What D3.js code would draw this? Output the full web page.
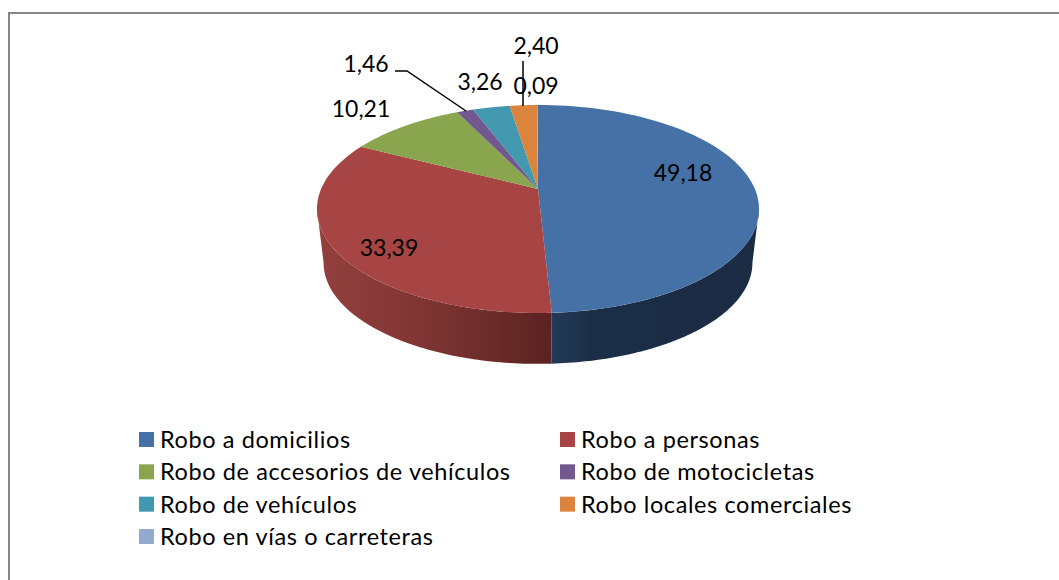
<!DOCTYPE html>
<html>
<head>
<meta charset="utf-8">
<script src="https://cdn.jsdelivr.net/npm/d3@7"></script>
<style>
  html, body { margin: 0; padding: 0; background: #fff; overflow: hidden; }
  text { font-family: Lato, "Open Sans", sans-serif; fill: #000; }
</style>
</head>
<body>
<div id="chart"></div>
<script>
// Data
const categories = [
  "Robo a domicilios", "Robo a personas", "Robo de accesorios de vehículos",
  "Robo de motocicletas", "Robo de vehículos", "Robo locales comerciales",
  "Robo en vías o carreteras"
];
const values = [49.18, 33.39, 10.21, 1.46, 3.26, 2.40, 0.09];
const valueLabels = ["49,18", "33,39", "10,21", "1,46", "3,26", "2,40", "0,09"];
const colors = ["#4571a6", "#a64543", "#89a54e", "#71588f", "#4298af", "#db843d", "#93a9cf"];

const width = 1059, height = 580;
const svg = d3.select("#chart").append("svg")
  .attr("width", width)
  .attr("height", height)
  .style("display", "block");

// frame, only top and left reach inside the picture
svg.append("path")
  .attr("d", "M9,580V13H1059")
  .attr("fill", "none")
  .attr("stroke", "#868686")
  .attr("stroke-width", 2);

const color = d3.scaleOrdinal().domain(categories).range(colors);
const arcs = d3.pie().sort(null).value(d => d)(values);

// perspective of the tilted disc: unit circle to screen
const cx = 538, apexY = 189, a = 216.9, p = 63.8, k = -0.1923;
function topRim(theta) {
  const u = Math.sin(theta), v = -Math.cos(theta), w = 1 + k * v;
  return [cx + a * u / w, (p * v + apexY) / w];
}
function bottomRim(theta) {
  const t = topRim(theta);
  return [cx + (t[0] - cx) * 0.97, 263 + (t[1] - 209) * 0.97];
}
function rim(fn, a0, a1) {
  return d3.range(0, 81).map(i => fn(a0 + (a1 - a0) * i / 80));
}
const line = d3.line();

// side shading
const defs = svg.append("defs");
function sideGradient(id, stops) {
  const g = defs.append("linearGradient").attr("id", id)
    .attr("gradientUnits", "userSpaceOnUse")
    .attr("x1", 317).attr("x2", 759).attr("y1", 0).attr("y2", 0);
  stops.forEach(s => g.append("stop").attr("offset", s[0]).attr("stop-color", s[1]));
}
sideGradient("side0", [[0.53, "#223a56"], [0.62, "#1c2e47"], [1, "#1a2b42"]]);
sideGradient("side1", [[0, "#93403d"], [0.2, "#833735"], [0.4, "#6b2c2a"], [0.53, "#5a2221"]]);

// only the front of the wall shows, between the two widest points of the disc
const widest = Math.acos(k);
svg.append("g").selectAll("path")
  .data(arcs.slice(0, 2))
  .enter().append("path")
  .attr("d", d => {
    const a0 = Math.max(d.startAngle, widest), a1 = Math.min(d.endAngle, 2 * Math.PI - widest);
    return line(rim(topRim, a0, a1).concat(rim(bottomRim, a0, a1).reverse())) + "Z";
  })
  .attr("fill", (d, i) => "url(#side" + i + ")");

// top face
svg.append("g").selectAll("path")
  .data(arcs)
  .enter().append("path")
  .attr("d", d => line([[cx, apexY]].concat(rim(topRim, d.startAngle, d.endAngle))) + "Z")
  .attr("fill", (d, i) => color(categories[i]));

// leader lines
const leaders = [
  [[395, 71], [407, 71], [466, 111]],
  [[523, 61], [523, 106]]
];
svg.append("g").selectAll("path")
  .data(leaders)
  .enter().append("path")
  .attr("d", d => line(d))
  .attr("fill", "none")
  .attr("stroke", "#000")
  .attr("stroke-width", 1.5);

// data labels
const labelPos = [[683, 181], [389, 256], [361, 117], [366, 72], [480, 90], [536, 54], [536, 94]];
svg.append("g").selectAll("text")
  .data(valueLabels)
  .enter().append("text")
  .attr("x", (d, i) => labelPos[i][0])
  .attr("y", (d, i) => labelPos[i][1])
  .attr("text-anchor", "middle")
  .attr("font-size", 23)
  .text(d => d);

// legend
const legendCol = [139, 560];
const legendRow = d3.scalePoint().domain(d3.range(4)).range([440, 537]);
const legend = svg.append("g").selectAll("g")
  .data(categories)
  .enter().append("g")
  .attr("transform", (d, i) => "translate(" + legendCol[i % 2] + "," + legendRow(Math.floor(i / 2)) + ")");
legend.append("rect")
  .attr("y", -8).attr("width", 15).attr("height", 15)
  .attr("fill", d => color(d));
legend.append("text")
  .attr("x", 21).attr("y", 8)
  .attr("font-size", 23.5)
  .attr("letter-spacing", 0.6)
  .text(d => d);
</script>
</body>
</html>
